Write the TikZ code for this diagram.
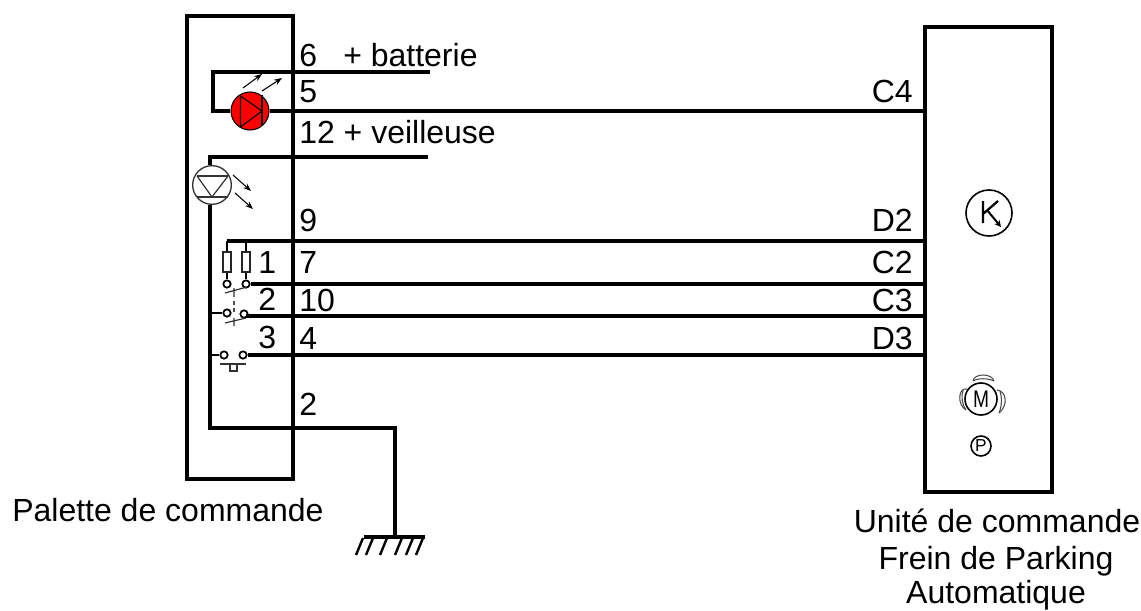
\documentclass[tikz,border=0pt]{standalone}
\usepackage{fontspec}
\setmainfont{Liberation Sans}
\usetikzlibrary{arrows.meta}
\tikzset{
 x=0.75pt,y=-0.75pt,
 boxx/.style={draw=black,line width=3pt,inner sep=0pt,outer sep=0pt},
 wire/.style={draw=black,line width=2.3pt},
 thin line/.style={draw=black,line width=1.5pt},
 sym/.style={draw=black!80,line width=.9pt},
 arr/.style={draw=black,line width=0.8pt,-{Stealth[length=6pt,width=4.5pt]}},
 lab/.style={anchor=base west,inner sep=0pt,font=\fontsize{24}{28}\selectfont},
 labr/.style={anchor=base east,inner sep=0pt,font=\fontsize{24}{28}\selectfont},
 labc/.style={anchor=base,inner sep=0pt,font=\fontsize{24}{28}\selectfont},
 term/.style={circle,draw=black,line width=1.3pt,fill=white,minimum size=5.5pt,inner sep=0pt},
 res/.style={rectangle,draw=black!85,line width=1.1pt,fill=white,minimum width=6pt,minimum height=15pt,inner sep=0pt},
 lamp/.style={circle,draw=black!80,line width=1pt,fill=white,minimum size=29pt,inner sep=0pt},
}
\begin{document}
\begin{tikzpicture}
\useasboundingbox (0,0) rectangle (1141,610);
% boxes
\node[boxx,minimum width=79.5pt,minimum height=347pt,anchor=north west] (pal) at (187,16) {};
\node[boxx,minimum width=95pt,minimum height=349pt,anchor=north west] (ucb) at (925,27) {};
% coordinates
\coordinate (batL) at (213,72);
\coordinate (batR) at (430,72);
\coordinate (loopB) at (213,111);
\coordinate (veilL) at (210,157);
\coordinate (veilR) at (428,157);
\coordinate (gndC) at (210,428);
\coordinate (gndE) at (395,428);
\coordinate (gndT) at (395,537);
\coordinate (gndA) at (364,537);
\coordinate (gndB) at (425,537);
% lamp + led
\node[circle,draw=black,line width=.8pt,fill=red,minimum size=28.5pt,inner sep=0pt] (led) at (250,111) {};
\node[lamp] (lamp) at (212,185) {};
% wires
\draw[wire] (batR) -- (batL) -- (loopB) -- (led);
\draw[wire] (led) -- (ucb.west |- led);
\draw[wire] (veilR) -- (veilL) -- (lamp.north -| veilL);
\draw[wire] (lamp.south -| veilL) -- (gndC) -- (gndE) -- (gndT);
\draw[wire] (gndA) -- (gndB);
\foreach \i/\x in {1/363,2/373,3/387,4/402,5/413,6/423}{
  \coordinate (ha\i) at (\x,538); \coordinate (hb\i) at (\x-7,555);
  \draw[black,line width=1.8pt] (ha\i) -- (hb\i);
}
% led symbol
\draw[black,line width=.8pt] (240.5,96) -- (262,111) -- (240.5,127) -- cycle;
\draw[black,line width=.8pt] (262,95) -- (262,125);
\coordinate (a1) at (243,88); \coordinate (a2) at (262,74);
\coordinate (a3) at (262,91); \coordinate (a4) at (282,78);
\draw[arr] (a1) -- (a2); \draw[arr] (a3) -- (a4);
% lamp symbol
\draw[sym] (197,176) -- (228,176) (197,197) -- (228,197);
\draw[sym] (197,176) -- (212,197) -- (228,176);
\coordinate (a5) at (233,175); \coordinate (a6) at (251,191);
\coordinate (a7) at (235,193); \coordinate (a8) at (253,209);
\draw[arr] (a5) -- (a6); \draw[arr] (a7) -- (a8);
% switches
\node[res] (r1) at (227,262) {};
\node[res] (r2) at (246,262) {};
\node[term] (t1) at (227,284) {};
\node[term] (t2) at (246,284) {};
\node[term] (t3) at (227,313) {};
\node[term] (t4) at (244,314) {};
\node[term] (t5) at (224,355) {};
\node[term] (t6) at (243,355) {};
\coordinate (rtop) at (227,241);
\coordinate (t4w) at (246,316);
\draw[wire] (rtop) -- (ucb.west |- rtop);
\draw[thin line] (rtop) -- (r1) (r1) -- (t1);
\draw[thin line] (r2 |- rtop) -- (r2) (r2) -- (t2);
\draw[wire] (t2) -- (ucb.west |- t2);
\draw[wire] (t4w) -- (ucb.west |- t4w);
\draw[wire] (t6) -- (ucb.west |- t6);
\draw[thin line] (veilL |- t3) -- (t3);
\draw[thin line] (veilL |- t5) -- (t5);
\draw[sym] (225,293) -- (247,287) (234,288) -- (234,297);
\draw[black!70,line width=.8pt] (234,301) -- (234,305) (234,308) -- (234,312);
\draw[sym] (225,323) -- (246,318) (234,318) -- (234,326);
\draw[sym] (220,364) -- (246,364);
\draw[sym] (230,364) -- (230,371) -- (237,371) -- (237,364);
% K
\node[circle,draw=black,line width=1.2pt,minimum size=34.5pt,inner sep=0pt] (kc) at (989,213) {};
\coordinate (k1) at (983,201); \coordinate (k2) at (983,223);
\coordinate (k3) at (998,201); \coordinate (k4) at (983,214); \coordinate (k5) at (1001,227);
\draw[black,line width=1.7pt] (k1) -- (k2) (k3) -- (k4);
\draw[black,line width=1.5pt,-{Stealth[length=5pt,width=5pt]}] (987,210) -- (k5);
% M
\draw[black!70,line width=.8pt] (973,381) .. controls (974,373) and (992,373) .. (994,381);
\draw[black!70,line width=.8pt] (973,381) .. controls (978,378) and (988,378) .. (994,381);
\draw[black!70,line width=.8pt] (967,389) .. controls (958,387) and (957,405) .. (966,410);
\draw[black!70,line width=.8pt] (963,390) .. controls (961,396) and (962,405) .. (966,410);
\draw[black!70,line width=.8pt] (997,390) .. controls (1007,391) and (1008,406) .. (999,413);
\draw[black!70,line width=.8pt] (1000,391) .. controls (1002,397) and (1002,406) .. (999,413);
\node[circle,draw=black,line width=1.2pt,fill=white,minimum size=24pt,inner sep=0pt,font=\fontsize{18}{20}\selectfont] (mo) at (981,399) {\scalebox{.8}[1]{M}};
\node[circle,draw=black,line width=1.2pt,minimum size=15pt,inner sep=0pt,font=\fontsize{13}{14}\selectfont] (pk) at (981,446) {P};
% labels
\node[lab] (l6) at (299,66) {6};
\node[lab] (lb) at (343,66) {+ batterie};
\node[lab] (l5) at (299,102) {5};
\node[lab] (l12) at (299,143) {12 + veilleuse};
\node[lab] (l9) at (299,231) {9};
\node[lab] (l7) at (299,273) {7};
\node[lab] (l10) at (299,311) {10};
\node[lab] (l4) at (299,349) {4};
\node[lab] (l2) at (299,415) {2};
\node[lab] (s1) at (258,273) {1};
\node[lab] (s2) at (258,310) {2};
\node[lab] (s3) at (258,348) {3};
\node[labr] (c4) at (913,102) {C4};
\node[labr] (d2) at (913,231) {D2};
\node[labr] (c2) at (913,273) {C2};
\node[labr] (c3) at (913,311) {C3};
\node[labr] (d3) at (913,349) {D3};
\node[lab] (pc) at (12,521) {Palette de commande};
\node[labc] (u1) at (997,532) {Unité de commande};
\node[labc] (u2) at (996,569) {Frein de Parking};
\node[labc] (u3) at (996,603) {Automatique};
\end{tikzpicture}
\end{document}
